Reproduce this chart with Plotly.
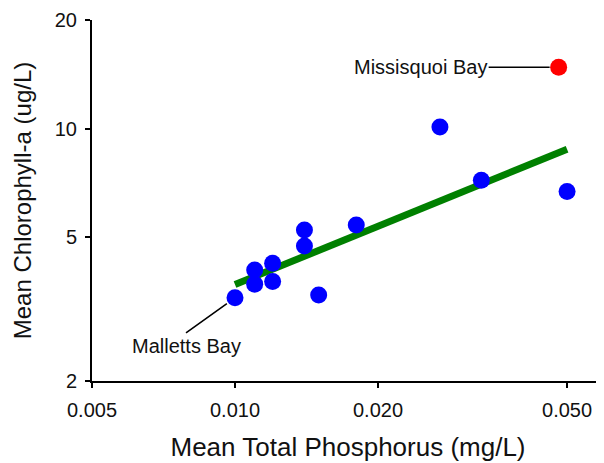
import numpy as np
import plotly.graph_objects as go

# Lake segments (blue points)
tp = [0.010, 0.011, 0.011, 0.012, 0.012, 0.014, 0.014, 0.015, 0.018, 0.027, 0.033, 0.050]
chl = [3.40, 4.06, 3.71, 4.24, 3.77, 5.24, 4.73, 3.46, 5.41, 10.1, 7.2, 6.7]

# Missisquoi Bay (red point)
miss_tp = [0.048]
miss_chl = [14.8]

# Regression line end points
trend_tp = [0.010, 0.050]
trend_chl = [3.70, 8.77]

x_ticks = [0.005, 0.010, 0.020, 0.050]
x_tick_text = ["0.005", "0.010", "0.020", "0.050"]
y_ticks = [2, 5, 10, 20]
y_tick_text = ["2", "5", "10", "20"]

FONT = "Liberation Sans, Arial, sans-serif"

fig = go.Figure()
fig.add_trace(go.Scatter(x=trend_tp, y=trend_chl, mode="lines",
                         line=dict(color="#008000", width=7), hoverinfo="skip"))
fig.add_trace(go.Scatter(x=tp, y=chl, mode="markers",
                         marker=dict(color="#0000FF", size=17)))
fig.add_trace(go.Scatter(x=miss_tp, y=miss_chl, mode="markers",
                         marker=dict(color="#FF0000", size=17)))

fig.add_annotation(x=np.log10(miss_tp[0]), y=np.log10(miss_chl[0]),
                   text="Missisquoi Bay", showarrow=True, arrowhead=0,
                   arrowwidth=1.6, arrowcolor="#000", ax=-138, ay=0, standoff=9,
                   font=dict(family=FONT, size=20, color="#111"))
fig.add_annotation(x=np.log10(tp[0]), y=np.log10(chl[0]),
                   text="Malletts Bay", showarrow=True, arrowhead=0,
                   arrowwidth=1.6, arrowcolor="#000", ax=-49, ay=35, standoff=10,
                   yanchor="top",
                   font=dict(family=FONT, size=20, color="#111"))

# the page body adds an 8px offset, so the figure is 8px smaller and margins reduced
fig.update_layout(
    width=596, height=455,
    margin=dict(l=84, r=0, t=12, b=82),
    paper_bgcolor="white", plot_bgcolor="white",
    showlegend=False,
    font=dict(family=FONT, color="#111"),
    xaxis=dict(type="log", range=[np.log10(0.005), np.log10(0.0598)],
               tickvals=x_ticks, ticktext=x_tick_text, automargin=False,
               tickfont=dict(size=20), ticks="outside", ticklen=5, tickwidth=2,
               ticklabelstandoff=5,
               tickcolor="#000", showline=True, linecolor="#000", linewidth=2,
               showgrid=False, zeroline=False,
               title=dict(text="Mean Total Phosphorus (mg/L)", font=dict(size=26), standoff=18)),
    yaxis=dict(type="log", range=[np.log10(2), np.log10(20)],
               tickvals=y_ticks, ticktext=y_tick_text, automargin=False,
               tickfont=dict(size=20), ticks="outside", ticklen=5, tickwidth=2,
               ticklabelstandoff=4,
               tickcolor="#000", showline=True, linecolor="#000", linewidth=2,
               showgrid=False, zeroline=False,
               title=dict(text="Mean Chlorophyll-a (ug/L)", font=dict(size=24), standoff=16)),
)

fig.write_html("out.html")
